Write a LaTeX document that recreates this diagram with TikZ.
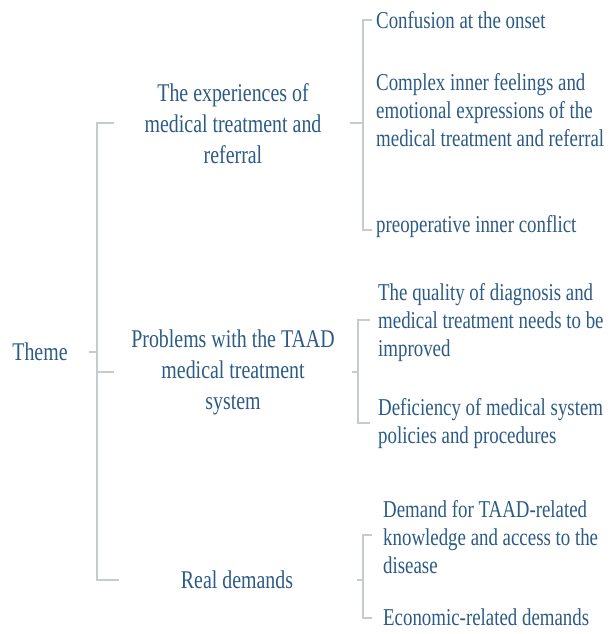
\documentclass[tikz,border=0pt]{standalone}
\usepackage{fontspec}
\setmainfont{Liberation Serif}[FakeStretch=0.78]
\definecolor{txt}{HTML}{2C5B86}
\definecolor{ln}{HTML}{C5CBD1}
\begin{document}
\begin{tikzpicture}[x=1pt,y=-1pt,
  mid/.style={text=txt, font=\fontsize{25.5}{31}\selectfont, align=center, inner sep=0},
  sub/.style={text=txt, font=\fontsize{24.2}{28}\selectfont, align=left, anchor=west, inner sep=0},
  br/.style={draw=ln, line width=1.5pt}]
\useasboundingbox (0,0) rectangle (611,634);
\fill[white] (0,0) rectangle (611,634);
% nodes
\node[mid] (theme) at (40,352) {Theme};
\node[mid] (g1) at (233,124) {The experiences of\\medical treatment and\\referral};
\node[mid] (g2) at (233,372) {Problems with the TAAD\\medical treatment\\system};
\node[mid] (g3) at (237,580) {Real demands};
\node[sub] (s1) at (376,20) {Confusion at the onset};
\node[sub] (s2) at (376,110) {Complex inner feelings and\\emotional expressions of the\\medical treatment and referral};
\node[sub] (s3) at (376,227) {preoperative inner conflict};
\node[sub] (s4) at (378,323) {The quality of diagnosis and\\medical treatment needs to be\\improved};
\node[sub] (s5) at (378,424) {Deficiency of medical system\\policies and procedures};
\node[sub] (s6) at (383,537) {Demand for TAAD-related\\knowledge and access to the\\disease};
\node[sub] (s7) at (383,617) {Economic-related demands};
% bracket coordinates
\coordinate (t0) at (89,352); \coordinate (t1) at (97,352);
\coordinate (a0) at (97,123); \coordinate (a1) at (97,372); \coordinate (a2) at (97,580);
\coordinate (a0e) at (114,123); \coordinate (a1e) at (114,372); \coordinate (a2e) at (119,580);
\coordinate (p0) at (350,123); \coordinate (p1) at (363,123);
\coordinate (p1t) at (363,20); \coordinate (p1b) at (363,230);
\coordinate (p1te) at (372,20); \coordinate (p1be) at (372,230);
\coordinate (q0) at (352,372); \coordinate (q1) at (358,372);
\coordinate (q1t) at (358,320); \coordinate (q1b) at (358,423);
\coordinate (q1te) at (370,320); \coordinate (q1be) at (370,423);
\coordinate (r0) at (357,580); \coordinate (r1) at (363,580);
\coordinate (r1t) at (363,535); \coordinate (r1b) at (363,618);
\coordinate (r1te) at (372,535); \coordinate (r1be) at (372,618);
% brackets
\draw[br] (t0) -- (t1);
\draw[br] (a0e) -- (a0) -- (a2) -- (a2e);
\draw[br] (a1) -- (a1e);
\draw[br] (p0) -- (p1);
\draw[br] (p1te) -- (p1t) -- (p1b) -- (p1be);
\draw[br] (q0) -- (q1);
\draw[br] (q1te) -- (q1t) -- (q1b) -- (q1be);
\draw[br] (r0) -- (r1);
\draw[br] (r1te) -- (r1t) -- (r1b) -- (r1be);
\end{tikzpicture}
\end{document}
